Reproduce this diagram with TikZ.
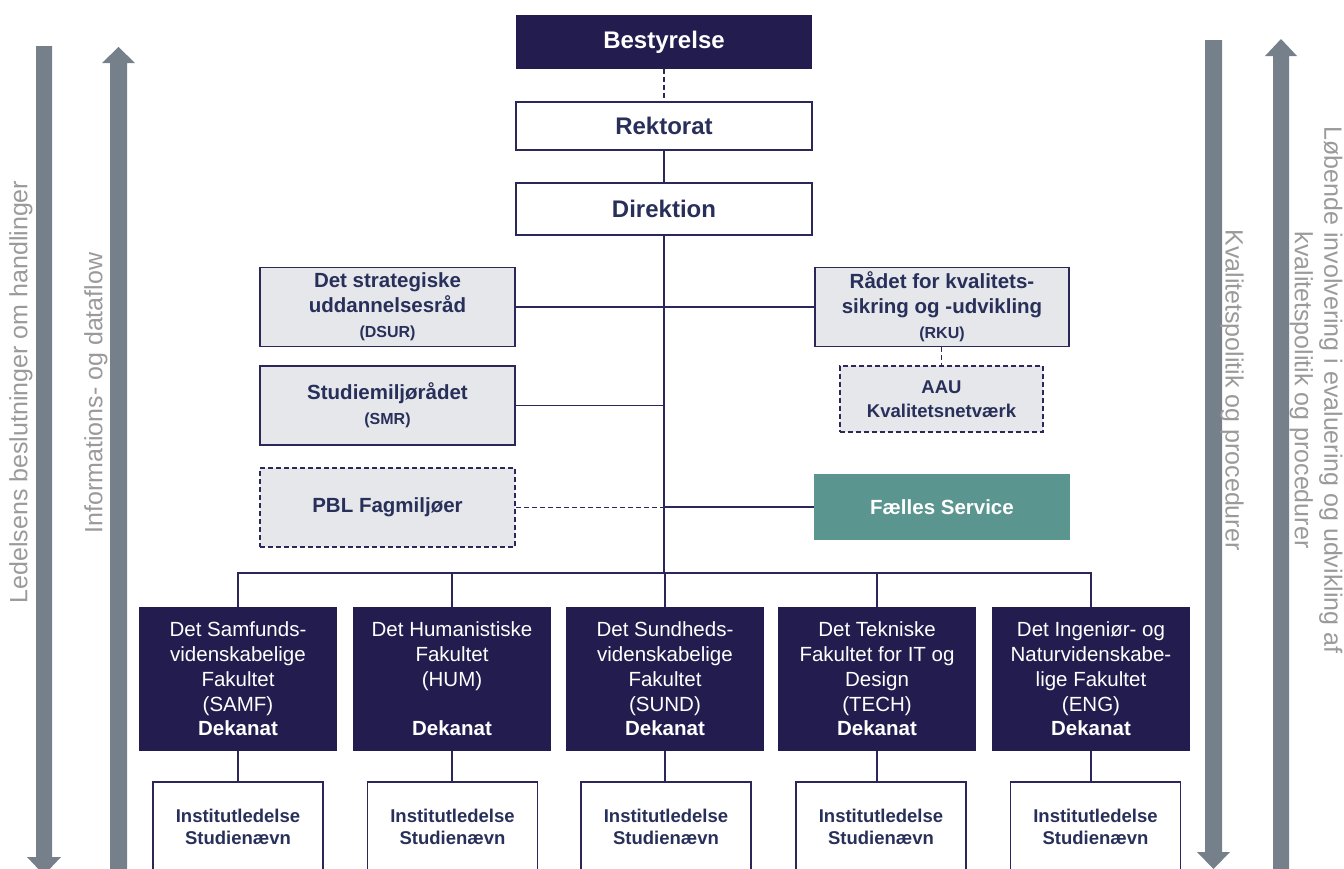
\documentclass[tikz,border=0pt]{standalone}
\usepackage{fontspec}
\setmainfont{Liberation Sans}
\definecolor{navy}{HTML}{231C4F}
\definecolor{lineblue}{HTML}{2B2759}
\definecolor{txtnavy}{HTML}{28305A}
\definecolor{boxgrey}{HTML}{E6E7EB}
\definecolor{tealbox}{HTML}{5A9590}
\definecolor{arrowgrey}{HTML}{76808A}
\definecolor{sidegrey}{HTML}{9A9A9A}
\begin{document}
\begin{tikzpicture}[x=1pt,y=-1pt,
  box/.style={rectangle, inner sep=0pt, align=center, line width=1.8pt},
  darkbox/.style={box, fill=navy, draw=navy, text=white},
  whitebox/.style={box, fill=white, draw=lineblue, text=txtnavy},
  greybox/.style={box, fill=boxgrey, draw=lineblue, text=txtnavy},
  dashbox/.style={greybox, dash pattern=on 5pt off 3pt},
  tealstyle/.style={box, fill=tealbox, draw=tealbox, text=white},
  topfont/.style={font=\fontsize{24}{28}\selectfont\bfseries},
  midfont/.style={font=\fontsize{20.5}{25}\selectfont\bfseries},
  facfont/.style={font=\fontsize{20.5}{24.8}\selectfont},
  instfont/.style={font=\fontsize{18.5}{22.5}\selectfont\bfseries, text=txtnavy, align=center, inner sep=0pt},
  sidefont/.style={font=\fontsize{25}{29.5}\selectfont, text=sidegrey, align=center, inner sep=0pt},
  conn/.style={draw=lineblue, line width=1.8pt},
  dconn/.style={conn, dash pattern=on 5pt off 3pt},
  facbox/.style={darkbox, facfont, minimum width=196pt, minimum height=142pt},
  instbox/.style={whitebox, minimum width=170pt, minimum height=120pt, anchor=north},
  arrowfill/.style={fill=arrowgrey}
]
\useasboundingbox (0,0) rectangle (1344,868);
\clip (0,0) rectangle (1344,868);

% side arrows
\fill[arrowfill] (36,46) -- (52,46) -- (52,857) -- (61,857) -- (44,875) -- (27,857) -- (36,857) -- cycle;
\fill[arrowfill] (110,890) -- (110,63) -- (102,63) -- (118.5,47) -- (135,63) -- (127,63) -- (127,890) -- cycle;
\fill[arrowfill] (1205,40) -- (1222,40) -- (1222,852) -- (1230,852) -- (1213.5,869) -- (1197,852) -- (1205,852) -- cycle;
\fill[arrowfill] (1273,890) -- (1273,56) -- (1265,56) -- (1281,39) -- (1297,56) -- (1289,56) -- (1289,890) -- cycle;

% side texts
\node[sidefont, rotate=90] (ledtxt) at (21,392) {Ledelsens beslutninger om handlinger};
\node[sidefont, rotate=90] (inftxt) at (96,393) {Informations- og dataflow};
\node[sidefont, rotate=-90] (kvaltxt) at (1232,390) {Kvalitetspolitik og procedurer};
\node[sidefont, rotate=-90] (lobtxt) at (1316,390) {Løbende involvering i evaluering og udvikling af\\kvalitetspolitik og procedurer};

% top chain
\node[darkbox, topfont, minimum width=294pt, minimum height=52pt] (best) at (664,42) {Bestyrelse};
\node[whitebox, topfont, minimum width=296pt, minimum height=48pt] (rekt) at (664,126) {Rektorat};
\node[whitebox, topfont, minimum width=296pt, minimum height=52pt] (dir) at (664,209) {Direktion};

% councils
\node[greybox, midfont, minimum width=255pt, minimum height=79pt] (dsur) at (387.5,307) {Det strategiske\\uddannelsesråd\\{\fontsize{16}{25}\selectfont (DSUR)}};
\node[greybox, midfont, minimum width=254pt, minimum height=79pt] (rku) at (942,307) {Rådet for kvalitets-\\sikring og -udvikling\\{\fontsize{16}{25}\selectfont (RKU)}};
\node[dashbox, font=\fontsize{18.5}{24}\selectfont\bfseries, minimum width=203pt, minimum height=66pt] (aau) at (941.5,399) {AAU\\Kvalitetsnetværk};
\node[greybox, midfont, minimum width=255pt, minimum height=79pt] (smr) at (387.5,405.5) {Studiemiljørådet\\{\fontsize{16}{25}\selectfont (SMR)}};
\node[dashbox, midfont, minimum width=255pt, minimum height=79pt] (pbl) at (387.5,507.5) {PBL Fagmiljøer};
\node[tealstyle, midfont, minimum width=254pt, minimum height=64pt] (fs) at (942,507) {Fælles Service};

% faculties
\node[facbox] (samf) at (238,679) {Det Samfunds-\\videnskabelige\\Fakultet\\(SAMF)\\\textbf{Dekanat}};
\node[facbox] (hum) at (452,679) {Det Humanistiske\\Fakultet\\(HUM)\\\mbox{}\\\textbf{Dekanat}};
\node[facbox] (sund) at (665,679) {Det Sundheds-\\videnskabelige\\Fakultet\\(SUND)\\\textbf{Dekanat}};
\node[facbox] (tech) at (877,679) {Det Tekniske\\Fakultet for IT og\\Design\\(TECH)\\\textbf{Dekanat}};
\node[facbox] (eng) at (1091,679) {Det Ingeniør- og\\Naturvidenskabe-\\lige Fakultet\\(ENG)\\\textbf{Dekanat}};

% institutes
\node[instbox] (i1) at (238,781) {};
\node[instbox] (i2) at (452.5,781) {};
\node[instbox] (i3) at (666,781) {};
\node[instbox] (i4) at (881,781) {};
\node[instbox] (i5) at (1095.5,781) {};
\node[instfont] (t1) at (238,827) {Institutledelse\\Studienævn};
\node[instfont] (t2) at (452.5,827) {Institutledelse\\Studienævn};
\node[instfont] (t3) at (666,827) {Institutledelse\\Studienævn};
\node[instfont] (t4) at (881,827) {Institutledelse\\Studienævn};
\node[instfont] (t5) at (1095.5,827) {Institutledelse\\Studienævn};

% connectors
\coordinate (bar) at (664,573);
\draw[dconn] (best.south) -- (rekt.north);
\draw[conn] (rekt.south) -- (dir.north);
\draw[conn] (dir.south) -- (bar);
\draw[conn] (dsur.east) -- (rku.west);
\draw[dconn] (rku.south -| aau.north) -- (aau.north);
\draw[conn] (smr.east) -- (smr.east -| bar);
\draw[dconn] (pbl.east) -- (pbl.east -| bar);
\draw[conn] (fs.west -| bar) -- (fs.west);
\draw[conn] (samf.north) -- (samf.north |- bar) -- (eng.north |- bar) -- (eng.north);
\draw[conn] (hum.north |- bar) -- (hum.north);
\draw[conn] (sund.north |- bar) -- (sund.north);
\draw[conn] (tech.north |- bar) -- (tech.north);
\draw[conn] (samf.south) -- (samf.south |- i1.north);
\draw[conn] (hum.south) -- (hum.south |- i2.north);
\draw[conn] (sund.south) -- (sund.south |- i3.north);
\draw[conn] (tech.south) -- (tech.south |- i4.north);
\draw[conn] (eng.south) -- (eng.south |- i5.north);
\end{tikzpicture}
\end{document}
